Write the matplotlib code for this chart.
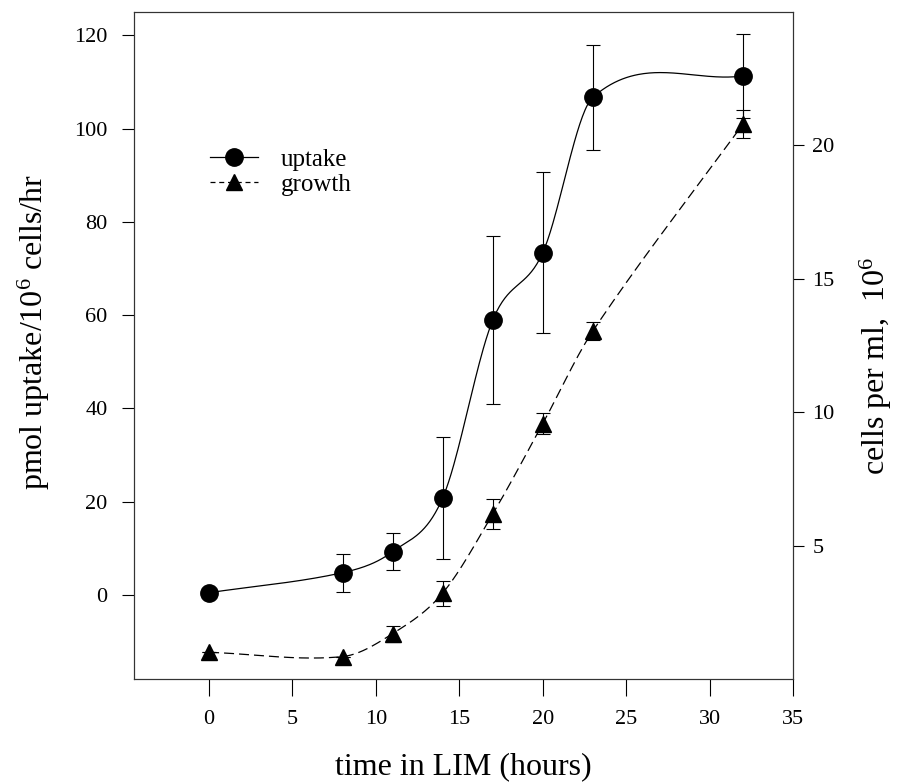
import numpy as np
import matplotlib
matplotlib.use("Agg")
import matplotlib.pyplot as plt
from matplotlib.lines import Line2D

plt.rcParams['font.family'] = ['Liberation Serif', 'DejaVu Serif']
plt.rcParams['mathtext.fontset'] = 'custom'
plt.rcParams['mathtext.rm'] = 'Liberation Serif'
plt.rcParams['mathtext.it'] = 'Liberation Serif:italic'

# ---- data ----
time_h = [0, 8, 11, 14, 17, 20, 23, 32]
uptake = [0.5, 4.8, 9.3, 20.8, 58.9, 73.4, 106.7, 111.3]
uptake_err = [0.0, 4.1, 4.0, 13.0, 18.0, 17.2, 11.3, 9.0]
growth = [1.0, 0.84, 1.70, 3.22, 6.18, 9.57, 13.04, 20.8]
growth_err = [0.0, 0.0, 0.30, 0.47, 0.55, 0.40, 0.34, 0.52]

x_ticks = [0, 5, 10, 15, 20, 25, 30, 35]
y_left_ticks = [0, 20, 40, 60, 80, 100, 120]
y_right_ticks = [5, 10, 15, 20]


def smooth_curve(x, y, n=400):
    """Cubic Hermite curve through the data points (finite-difference tangents)."""
    x = np.asarray(x, float)
    y = np.asarray(y, float)
    m = np.empty_like(y)
    m[0] = (y[1] - y[0]) / (x[1] - x[0])
    m[-1] = (y[-1] - y[-2]) / (x[-1] - x[-2])
    m[1:-1] = (y[2:] - y[:-2]) / (x[2:] - x[:-2])
    xs = np.linspace(x[0], x[-1], n)
    idx = np.clip(np.searchsorted(x, xs, side='right') - 1, 0, len(x) - 2)
    h = x[idx + 1] - x[idx]
    t = (xs - x[idx]) / h
    h00 = 2 * t**3 - 3 * t**2 + 1
    h10 = t**3 - 2 * t**2 + t
    h01 = -2 * t**3 + 3 * t**2
    h11 = t**3 - t**2
    ys = h00 * y[idx] + h10 * h * m[idx] + h01 * y[idx + 1] + h11 * h * m[idx + 1]
    return xs, ys


fig = plt.figure(figsize=(9.05, 7.84), dpi=100)
ax = fig.add_axes([134 / 905, 105 / 784, 659 / 905, 667 / 784])
ax2 = ax.twinx()

lw = 0.9
# uptake (left axis)
xs, ys = smooth_curve(time_h, uptake)
ax.plot(xs, ys, color='black', lw=lw)
ax.errorbar(time_h, uptake, yerr=uptake_err, fmt='none', ecolor='black',
            elinewidth=0.8, capsize=5, capthick=0.8)
ax.plot(time_h, uptake, 'o', color='black', ms=12.5, zorder=5)

# growth (right axis)
xs2, ys2 = smooth_curve(time_h, growth)
ax2.plot(xs2, ys2, color='black', lw=lw, dashes=(8, 4))
ax2.errorbar(time_h, growth, yerr=growth_err, fmt='none', ecolor='black',
             elinewidth=0.8, capsize=5, capthick=0.8)
ax2.plot(time_h, growth, '^', color='black', ms=12, zorder=5)

ax.set_xlim(-4.5, 35)
ax.set_ylim(-18, 125)
ax2.set_ylim(0, 25)

ax.set_xticks(x_ticks)
ax.set_yticks(y_left_ticks)
ax2.set_yticks(y_right_ticks)

for a in (ax, ax2):
    for s in a.spines.values():
        s.set_linewidth(0.8)
        s.set_color('#333333')

ax.tick_params(axis='both', direction='out', width=0.8, labelsize=16)
ax.tick_params(axis='y', length=9, pad=10)
ax.tick_params(axis='x', length=12, pad=10)
ax2.tick_params(axis='y', direction='out', length=8, width=0.8,
                labelsize=16, pad=6)

ax.set_xlabel('time in LIM (hours)', fontsize=23)
ax.xaxis.set_label_coords(0.5, -0.11)
ax.set_ylabel(r'pmol uptake/10$^{6}$ cells/hr', fontsize=23)
ax.yaxis.set_label_coords(-0.125, 0.52)
ax2.set_ylabel(r'cells per ml,  10$^{6}$', fontsize=23)
ax2.yaxis.set_label_coords(1.098, 0.47)

handles = [
    Line2D([], [], color='black', lw=lw, marker='o', ms=12.5),
    Line2D([], [], color='black', lw=lw, dashes=(4, 3), marker='^', ms=12),
]
ax.legend(handles, ['uptake', 'growth'], loc='upper left',
          bbox_to_anchor=(0.097, 0.814), frameon=False, fontsize=18,
          handlelength=1.9, handletextpad=0.9, labelspacing=0.1,
          borderpad=0)

fig.savefig('out.png', dpi=100)
